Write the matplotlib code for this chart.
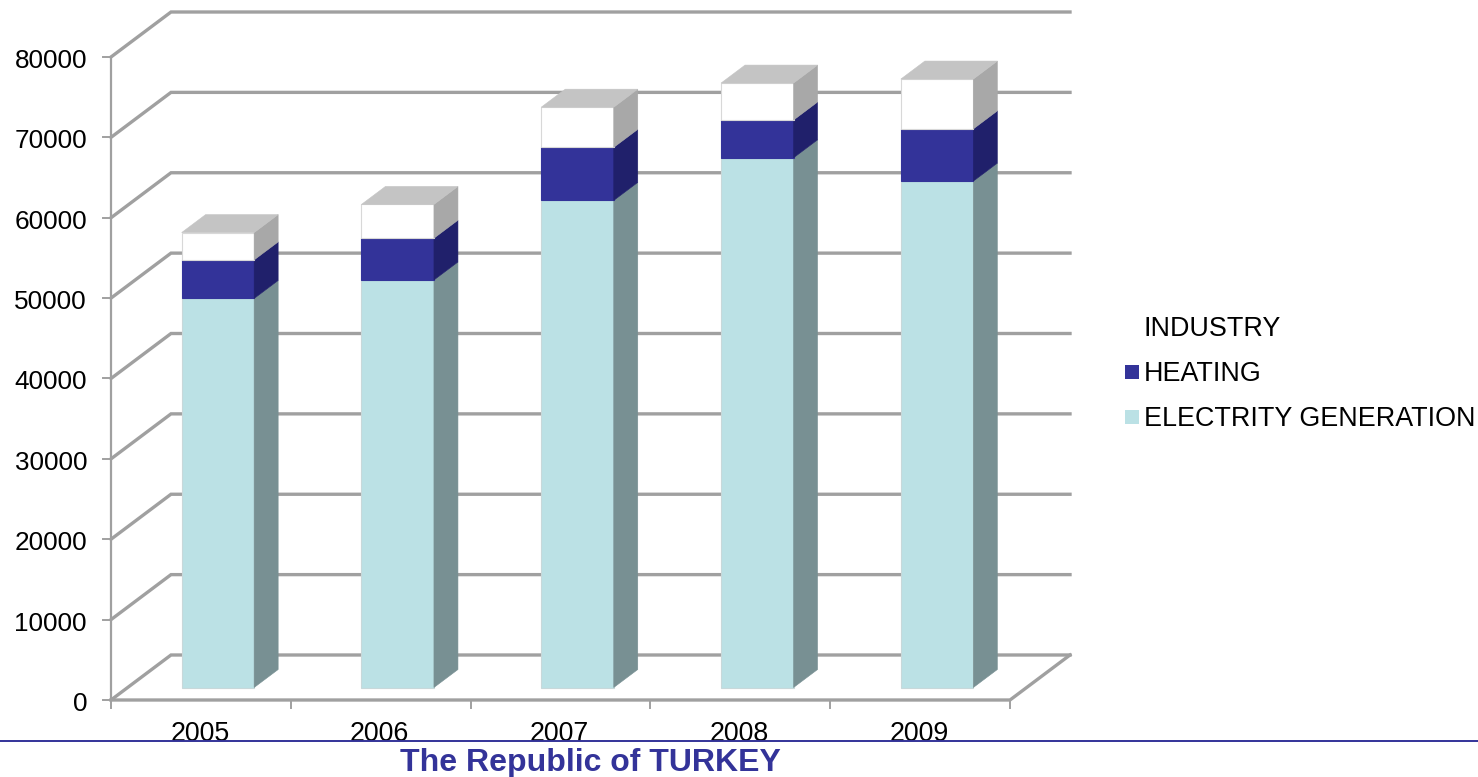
import matplotlib
matplotlib.use('Agg')
import matplotlib.pyplot as plt
from matplotlib.patches import Polygon, Rectangle

years = ['2005', '2006', '2007', '2008', '2009']
electricity = [48400, 50700, 60600, 65900, 63000]
heating = [4800, 5200, 6600, 4700, 6500]
industry = [3400, 4200, 5000, 4600, 6200]
y_ticks = [0, 10000, 20000, 30000, 40000, 50000, 60000, 70000, 80000]
series_names = ['INDUSTRY', 'HEATING', 'ELECTRITY GENERATION']

plt.rcParams['font.family'] = ['Liberation Sans', 'DejaVu Sans']

W, H = 1478, 777
fig = plt.figure(figsize=(W / 100, H / 100), dpi=100)
# axes box is the front plane of the fake 3d chart
ax = fig.add_axes([111 / W, 1 - 700 / H, 899 / W, 643 / H])
ax.set_xlim(0, 5)
ax.set_ylim(0, 80000)
ax.axis('off')

# depth of the chart and the bars, in data units
px_x = 5 / 899
px_y = 80000 / 643
dx, dy = 60 * px_x, 45 * px_y
bar_dx0, bar_dy0 = 17 * px_x, 12.5 * px_y
bar_dx, bar_dy = 24 * px_x, 18 * px_y
bar_w = 72.5 * px_x

grid = '#a0a0a0'
for v in y_ticks:
    ax.plot([0, dx, 5 + dx], [v, v + dy, v + dy], color=grid, lw=2.4, clip_on=False,
            solid_joinstyle='miter', zorder=1)
    ax.plot([-8 * px_x, 0], [v, v], color=grid, lw=1.4, clip_on=False, zorder=1)
    ax.text(-24 * px_x, v - 4 * px_y, str(v), ha='right', va='center', fontsize=18.8, color='#000000')
ax.plot([0, 5, 5 + dx], [0, 0, dy], color=grid, lw=2.4, clip_on=False, zorder=1)
ax.plot([0, 0], [0, 80000], color=grid, lw=1.6, clip_on=False, zorder=1)
for i in range(6):
    ax.plot([i, i], [0, -8 * px_y], color=grid, lw=1.4, clip_on=False, zorder=1)


def bar3d(x0, y0, h, front, side, top=None, edge=None):
    x1 = x0 + bar_w
    ax.add_patch(Rectangle((x0, y0), bar_w, h, fc=front, ec=edge or front, lw=0.8, zorder=3, clip_on=False))
    ax.add_patch(Polygon([(x1, y0), (x1 + bar_dx, y0 + bar_dy), (x1 + bar_dx, y0 + h + bar_dy), (x1, y0 + h)],
                         fc=side, ec=side, lw=0.4, zorder=3, clip_on=False))
    if top:
        ax.add_patch(Polygon([(x0, y0 + h), (x1, y0 + h), (x1 + bar_dx, y0 + h + bar_dy), (x0 + bar_dx, y0 + h + bar_dy)],
                             fc=top, ec=top, lw=0.4, zorder=3, clip_on=False))


for i in range(len(years)):
    x0 = i + 0.5 + bar_dx0 - bar_w / 2
    bar3d(x0, bar_dy0, electricity[i], '#bbe1e5', '#789093', edge='#c8d8da')
    bar3d(x0, bar_dy0 + electricity[i], heating[i], '#333399', '#20206b')
    bar3d(x0, bar_dy0 + electricity[i] + heating[i], industry[i], '#ffffff', '#a8a8a8', '#c4c4c4', '#d8d8d8')
    ax.text(i + 0.5 - 1 * px_x, -34 * px_y, years[i], ha='center', va='center', fontsize=19.3, color='#000000', zorder=2)

# legend, the first entry has a white swatch
legend_colors = ['#ffffff', '#333399', '#bbe1e5']
for name, col, yp in zip(series_names, legend_colors, [327, 372, 417]):
    fig.patches.append(Rectangle((1125 / W, 1 - (yp + 7) / H), 14 / W, 14 / H, transform=fig.transFigure,
                                 fc=col, ec='none'))
    fig.text(1144 / W, 1 - (yp + 2) / H, name, ha='left', va='center', fontsize=19.4, color='#000000')

# footer rule and title
fig.add_artist(plt.Line2D([0, 1], [1 - 740.5 / H] * 2, color='#333399', lw=1.4))
fig.text(590 / W, 1 - 762.5 / H, 'The Republic of TURKEY', ha='center', va='center', fontsize=23,
         fontweight='bold', color='#333399')

fig.savefig('out.png', dpi=100)
